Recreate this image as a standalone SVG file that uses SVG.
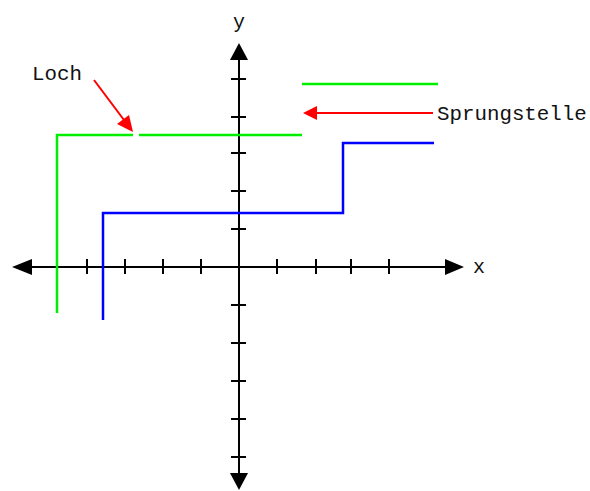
<svg xmlns="http://www.w3.org/2000/svg" width="590" height="491" viewBox="0 0 590 491">
<style>
.ax{stroke:#000;stroke-width:2;fill:none}
.tk{stroke:#000;stroke-width:2}
.g{stroke:#00ee00;stroke-width:2.5;fill:none}
.b{stroke:#0000ff;stroke-width:2.5;fill:none}
.r{stroke:#ff0000;stroke-width:2;fill:none}
.t{font-family:"Liberation Mono","Courier New",monospace;fill:#111}
</style>
<rect width="590" height="491" fill="#fff"/>
<g id="axes">
<line class="ax" x1="20" y1="267" x2="455" y2="267"/>
<line class="ax" x1="239" y1="52" x2="239" y2="480"/>
<polygon points="12,267 32,259 32,275" fill="#000"/>
<polygon points="464,267 445,259 445,275" fill="#000"/>
<polygon points="239,43 230,60 248,60" fill="#000"/>
<polygon points="239,490 230,473 248,473" fill="#000"/>
<g class="tk">
<line x1="87" y1="259" x2="87" y2="274"/>
<line x1="125" y1="259" x2="125" y2="274"/>
<line x1="163" y1="259" x2="163" y2="274"/>
<line x1="201" y1="259" x2="201" y2="274"/>
<line x1="277" y1="259" x2="277" y2="274"/>
<line x1="316" y1="259" x2="316" y2="274"/>
<line x1="351" y1="259" x2="351" y2="274"/>
<line x1="389" y1="259" x2="389" y2="274"/>
<line x1="231" y1="79" x2="246" y2="79"/>
<line x1="231" y1="117" x2="246" y2="117"/>
<line x1="231" y1="153" x2="246" y2="153"/>
<line x1="231" y1="191" x2="246" y2="191"/>
<line x1="231" y1="229" x2="246" y2="229"/>
<line x1="231" y1="305" x2="246" y2="305"/>
<line x1="231" y1="343" x2="246" y2="343"/>
<line x1="231" y1="381" x2="246" y2="381"/>
<line x1="231" y1="419" x2="246" y2="419"/>
<line x1="231" y1="457" x2="246" y2="457"/>
</g>
<text class="t" x="239" y="28" font-size="20" text-anchor="middle">y</text>
<text class="t" x="479" y="273" font-size="20" text-anchor="middle">x</text>
</g>
<g id="green">
<polyline class="g" points="57,313 57,135 133,135"/>
<line class="g" x1="139" y1="135" x2="302" y2="135"/>
<line class="g" x1="302" y1="84" x2="438" y2="84"/>
</g>
<g id="blue">
<polyline class="b" points="103,320 103,213 343,213 343,143 434,143"/>
</g>
<g id="loch">
<text class="t" x="32" y="80" font-size="20.8">Loch</text>
<line class="r" x1="94" y1="80" x2="124" y2="120"/>
<polygon points="133,132 117,124 129,115" fill="#ff0000"/>
</g>
<g id="sprungstelle">
<text class="t" x="437" y="120" font-size="20.8">Sprungstelle</text>
<line class="r" x1="433" y1="113" x2="314" y2="113"/>
<polygon points="303,113 317,106 317,120" fill="#ff0000"/>
</g>
</svg>
